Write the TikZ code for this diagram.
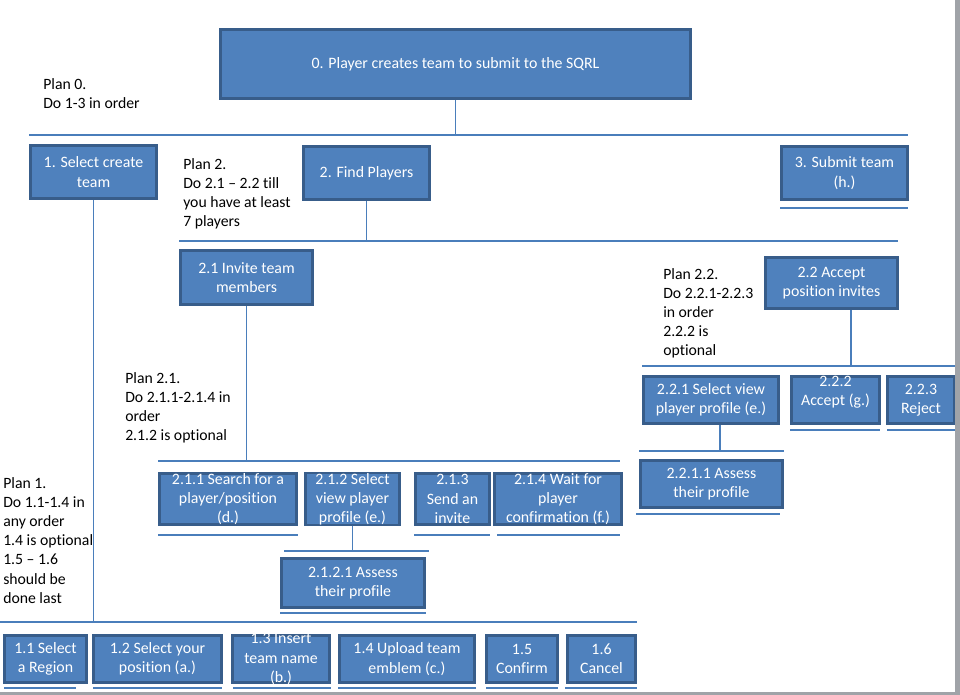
\documentclass[tikz,border=0pt]{standalone}
\usepackage{fontspec}
\setmainfont{Carlito}[Ligatures=NoCommon]
\definecolor{taskfill}{HTML}{4F81BD}
\definecolor{taskedge}{HTML}{385D8A}
\definecolor{linkblue}{HTML}{4A7EBB}
\definecolor{framegray}{HTML}{A0A3A8}

\begin{document}
\begin{tikzpicture}[x=0.75pt,y=-0.75pt]
		\tikzset{task box/.style 2 args={draw=taskedge,fill=taskfill,line width=2pt,minimum width=(#1-2.7)*0.75pt,minimum height=(#2-2.7)*0.75pt,inner sep=0pt,text=white,align=center,font=\fontsize{11.9}{14.4}\selectfont},
			task text/.style={text=white,align=center,inner sep=0pt,font=\fontsize{11.9}{14.4}\selectfont},
			plan note/.style={anchor=north west,align=left,inner sep=0pt,font=\fontsize{11.8}{14.4}\selectfont},
			link line/.style={draw=linkblue,line width=0.8pt}}
		
		\useasboundingbox (0,0) rectangle (960,695);
		
		\node [task box={473}{72}] (t0) at (455.5,64) {0. Player creates team to submit to the SQRL};
		\node [task box={129}{56}] (t1) at (93.5,172) {1. Select create\\team};
		\node [task box={129}{56}] (t2) at (366.5,173) {2. Find Players};
		\node [task box={129}{56}] (t3) at (844.5,173) {3. Submit team\\(h.)};
		\node [task box={135}{57}] (t21) at (246.5,277.5) {2.1 Invite team\\members};
		\node [task box={135}{54}] (t22) at (831.5,283) {2.2 Accept\\position invites};
		\node [task box={140}{54}] (t211) at (228,499) {2.1.1 Search for a\\player/position\\(d.)};
		\node [task box={97}{54}] (t212) at (352.5,499) {2.1.2 Select\\view player\\profile (e.)};
		\node [task box={77}{54}] (t213) at (452.5,499) {2.1.3\\Send an\\invite};
		\node [task box={130}{54}] (t214) at (558,499) {2.1.4 Wait for\\player\\confirmation (f.)};
		\node [task box={146}{52}] (t2121) at (353,583) {2.1.2.1 Assess\\their profile};
		\node [task box={138}{50}] (t221) at (711,400) {2.2.1 Select view\\player profile (e.)};
		\node [task box={91}{50},label={[task text,yshift=6pt]center:{2.2.2\\Accept (g.)}}] (t222) at (835.5,400) {};
		\node [task box={70}{50}] (t223) at (921,400) {2.2.3\\Reject};
		\node [task box={145}{50}] (t2211) at (711.5,484) {2.2.1.1 Assess\\their profile};
		\node [task box={85}{50}] (t11) at (45.5,659) {1.1 Select\\a Region};
		\node [task box={131}{50}] (t12) at (157.5,659) {1.2 Select your\\position (a.)};
		\node [task box={100}{50},label={[task text]center:{1.3 Insert\\team name\\(b.)}}] (t13) at (281,659) {};
		\node [task box={138}{50}] (t14) at (407,659) {1.4 Upload team\\emblem (c.)};
		\node [task box={74}{50}] (t15) at (522,659) {1.5\\Confirm};
		\node [task box={71}{50}] (t16) at (601.5,659) {1.6\\Cancel};
		
		\node [plan note] (p0) at (43,78) {Plan 0.\\Do 1-3 in order};
		\node [plan note] (p2) at (183,158) {Plan 2.\\Do 2.1 – 2.2 till\\you have at least\\7 players};
		\node [plan note] (p21) at (125,372) {Plan 2.1.\\Do 2.1.1-2.1.4 in\\order\\2.1.2 is optional};
		\node [plan note] (p22) at (663,268) {Plan 2.2.\\Do 2.2.1-2.2.3\\in order\\2.2.2 is\\optional};
		\node [plan note] (p1) at (3,477) {Plan 1.\\Do 1.1-1.4 in\\any order\\1.4 is optional\\1.5 – 1.6\\should be\\done last};
		
		\coordinate (b0w) at (29,135);    \coordinate (b0e) at (908,135);
		\coordinate (b1w) at (0,622);     \coordinate (b1e) at (637,622);
		\coordinate (b2w) at (179,241);   \coordinate (b2e) at (898,241);
		\coordinate (b21w) at (158,461);  \coordinate (b21e) at (620,461);
		\coordinate (b212w) at (284,551); \coordinate (b212e) at (429,551);
		\coordinate (b22w) at (642,366);  \coordinate (b22e) at (956,366);
		\coordinate (b221w) at (639,451); \coordinate (b221e) at (784,451);
		
		\draw [link line] (b0w) -- (b0e) (t0.south) -- (t0.south |- b0w);
		\draw [link line] (b1w) -- (b1e) (t1.south) -- (t1.south |- b1w);
		\draw [link line] (b2w) -- (b2e) (t2.south) -- (t2.south |- b2w);
		\draw [link line] (b21w) -- (b21e) (t21.south) -- (t21.south |- b21w);
		\draw [link line] (b212w) -- (b212e) (t212.south) -- (t212.south |- b212w);
		\draw [link line] (b22w) -- (b22e) ([xshift=14.6pt]t22.south) -- ++(0,56);
		\draw [link line] (b221w) -- (b221e) ([xshift=6.75pt]t221.south) -- ++(0,26);
		
		\foreach \xa/\xb/\yy in {780/908/208, 158/298/535, 414/490/535, 497/620/535, 280/426/613, 790/880/430, 887/956/430, 636/780/514, 4/76/688, 93/222/688, 233/331/688, 338/476/688, 486/558/688, 565/637/688}
			\draw [link line] (\xa,\yy) -- (\xb,\yy);
		
		\fill [framegray] (955,0) rectangle (960,695);
		\fill [framegray] (0,692) rectangle (960,695);
\end{tikzpicture}
\end{document}
